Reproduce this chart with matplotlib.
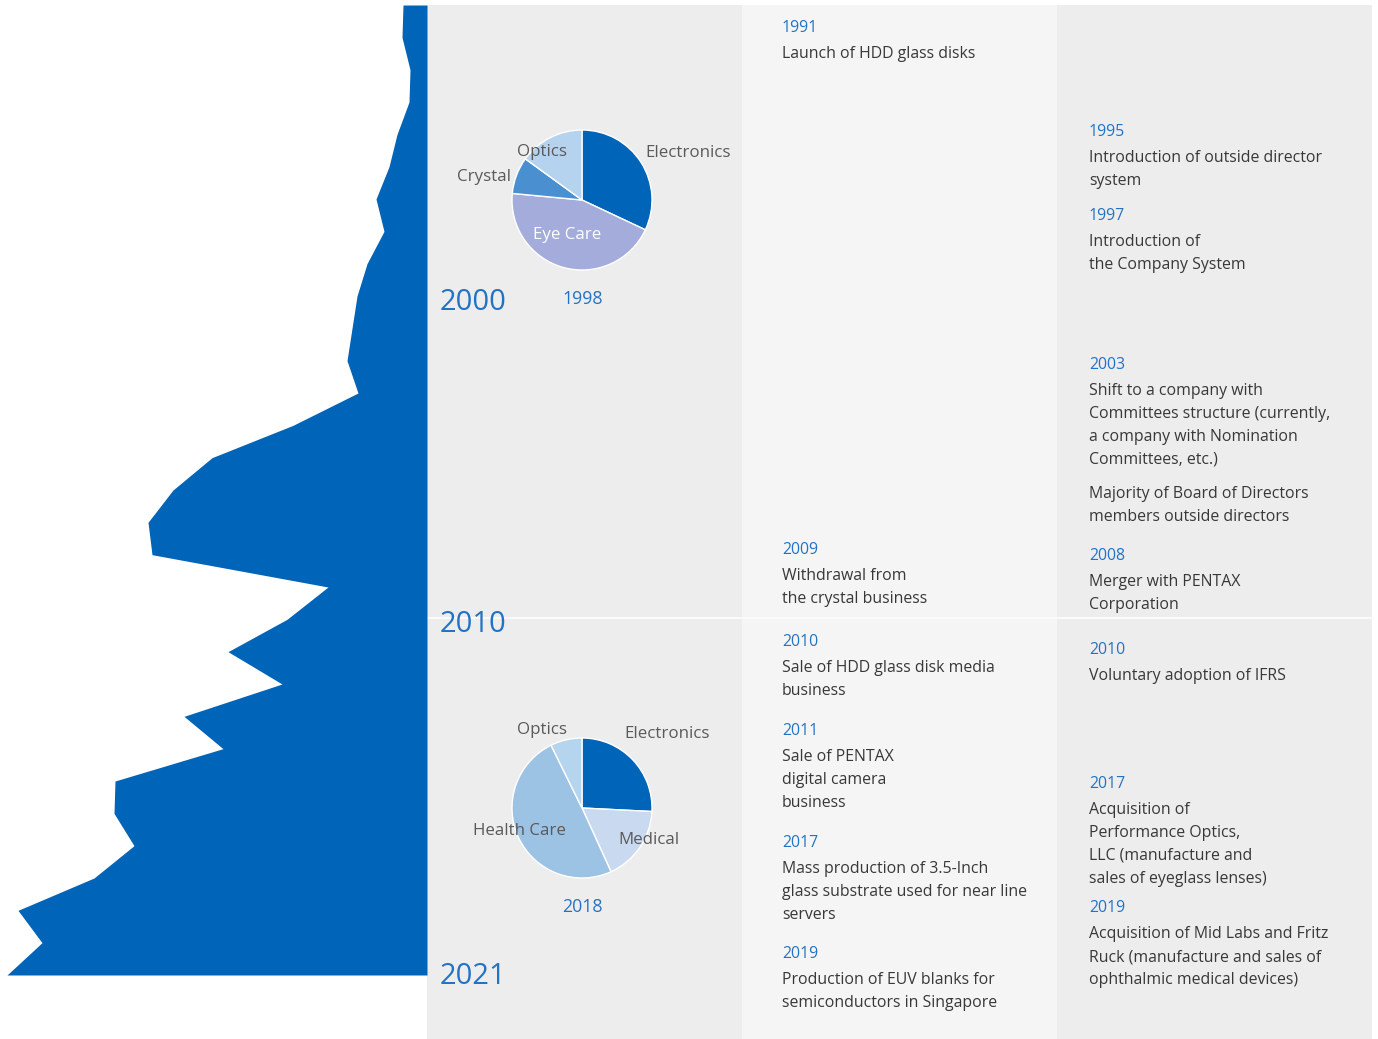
import matplotlib
matplotlib.use('Agg')
import matplotlib.pyplot as plt
from matplotlib.patches import Rectangle

plt.rcParams['font.family'] = ['Open Sans', 'DejaVu Sans']

# Yearly profile drawn as the blue silhouette (width grows with the value)
years = list(range(1991, 2022))
profile = [24, 25, 17, 18, 30, 38, 51, 43, 60, 70, 75, 80, 69, 134, 215, 254,
           279, 275, 99, 140, 199, 145, 243, 204, 312, 313, 293, 333, 409, 385, 420]

# Segment mix pies
pie1998_labels = ['Electronics', 'Eye Care', 'Crystal', 'Optics']
pie1998_values = [32.0, 44.5, 8.5, 15.0]
pie2018_labels = ['Electronics', 'Medical', 'Health Care', 'Optics']
pie2018_values = [25.8, 17.4, 49.5, 7.3]

decade_labels = ['2000', '2010', '2021']

# Timeline: middle column (business events)
col2_years = ['1991', '2009', '2010', '2011', '2017', '2019']
col2_text = [
    ['Launch of HDD glass disks'],
    ['Withdrawal from', 'the crystal business'],
    ['Sale of HDD glass disk media', 'business'],
    ['Sale of PENTAX', 'digital camera', 'business'],
    ['Mass production of 3.5-Inch', 'glass substrate used for near line', 'servers'],
    ['Production of EUV blanks for', 'semiconductors in Singapore'],
]
# Timeline: right column (governance / M&A)
col3_years = ['1995', '1997', '2003', '', '2008', '2010', '2017', '2019']
col3_text = [
    ['Introduction of outside director', 'system'],
    ['Introduction of', 'the Company System'],
    ['Shift to a company with', 'Committees structure (currently,',
     'a company with Nomination', 'Committees, etc.)'],
    ['Majority of Board of Directors', 'members outside directors'],
    ['Merger with PENTAX', 'Corporation'],
    ['Voluntary adoption of IFRS'],
    ['Acquisition of', 'Performance Optics,', 'LLC (manufacture and',
     'sales of eyeglass lenses)'],
    ['Acquisition of Mid Labs and Fritz', 'Ruck (manufacture and sales of',
     'ophthalmic medical devices)'],
]

# layout (pixels)
W, H = 1378, 1039
col2_y = [28, 550, 642, 731, 843, 954]
col3_y = [132, 216, 365, 468, 556, 650, 784, 908]
decade_y = [302, 625, 977]

BLUE = '#0064B8'
YEAR_BLUE = '#2373C4'
TEXT = '#383838'
LABEL = '#5A5A5A'
FS = 11.4
PFS = 12.2


def px_axes(x0, y0, x1, y1):
    return fig.add_axes([x0 / W, 1 - y1 / H, (x1 - x0) / W, (y1 - y0) / H])


fig = plt.figure(figsize=(W / 100, H / 100), dpi=100)
fig.patch.set_facecolor('white')

# background columns
bg = px_axes(0, 0, W, H)
bg.set_xlim(0, W)
bg.set_ylim(H, 0)
bg.axis('off')
bg.add_patch(Rectangle((427, 5), 315, H - 5, color='#EDEDED', lw=0))
bg.add_patch(Rectangle((742, 5), 315, H - 5, color='#F5F5F5', lw=0))
bg.add_patch(Rectangle((1057, 5), 315, H - 5, color='#EDEDED', lw=0))
bg.plot([427, 1372], [618, 618], color='#FAFAFA', lw=1.5)

# blue silhouette
area = px_axes(0, 5, 427, 975)
area.fill_betweenx(years, 0, profile, color=BLUE, lw=0)
area.set_xlim(427, 0)
area.set_ylim(2021, 1991)
area.axis('off')

# pies
pie1 = px_axes(512, 130, 652, 270)
pie1.pie(pie1998_values, colors=[BLUE, '#A3ACDA', '#4A8FD0', '#B5D3EE'],
         startangle=90, counterclock=False, radius=1,
         wedgeprops=dict(edgecolor='white', linewidth=1))
pie1.set_xlim(-1, 1)
pie1.set_ylim(-1, 1)

pie2 = px_axes(512, 738, 652, 878)
pie2.pie(pie2018_values, colors=[BLUE, '#C9DAF0', '#9CC2E4', '#B5D4EE'],
         startangle=90, counterclock=False, radius=1,
         wedgeprops=dict(edgecolor='white', linewidth=1))
pie2.set_xlim(-1, 1)
pie2.set_ylim(-1, 1)

# text layer
fg = px_axes(0, 0, W, H)
fg.set_xlim(0, W)
fg.set_ylim(H, 0)
fg.axis('off')
fg.patch.set_visible(False)

for lab, y in zip(decade_labels, decade_y):
    fg.text(440, y, lab, color=YEAR_BLUE, fontsize=21, va='center', ha='left')

# pie labels
fg.text(542, 152, pie1998_labels[3], color=LABEL, fontsize=PFS, ha='center', va='center')
fg.text(645, 153, pie1998_labels[0], color=LABEL, fontsize=PFS, ha='left', va='center')
fg.text(484, 177, pie1998_labels[2], color=LABEL, fontsize=PFS, ha='center', va='center')
fg.text(567, 235, pie1998_labels[1], color='white', fontsize=PFS, ha='center', va='center')
fg.text(583, 299, '1998', color=YEAR_BLUE, fontsize=12.8, ha='center', va='center')

fg.text(542, 730, pie2018_labels[3], color=LABEL, fontsize=PFS, ha='center', va='center')
fg.text(667, 734, pie2018_labels[0], color=LABEL, fontsize=PFS, ha='center', va='center')
fg.text(519, 831, pie2018_labels[2], color=LABEL, fontsize=PFS, ha='center', va='center')
fg.text(649, 840, pie2018_labels[1], color=LABEL, fontsize=PFS, ha='center', va='center')
fg.text(582, 907, '2018', color=YEAR_BLUE, fontsize=12.8, ha='center', va='center')


def draw_column(x, ys, yrs, texts):
    for y, yr, lines in zip(ys, yrs, texts):
        if yr:
            fg.text(x, y, yr, color=YEAR_BLUE, fontsize=FS, va='center', ha='left')
        for i, line in enumerate(lines):
            fg.text(x, y + 26 + 23 * i, line, color=TEXT, fontsize=FS,
                    va='center', ha='left')


draw_column(782, col2_y, col2_years, col2_text)
draw_column(1089, col3_y, col3_years, col3_text)

fig.savefig('out.png', dpi=100, facecolor='white')
